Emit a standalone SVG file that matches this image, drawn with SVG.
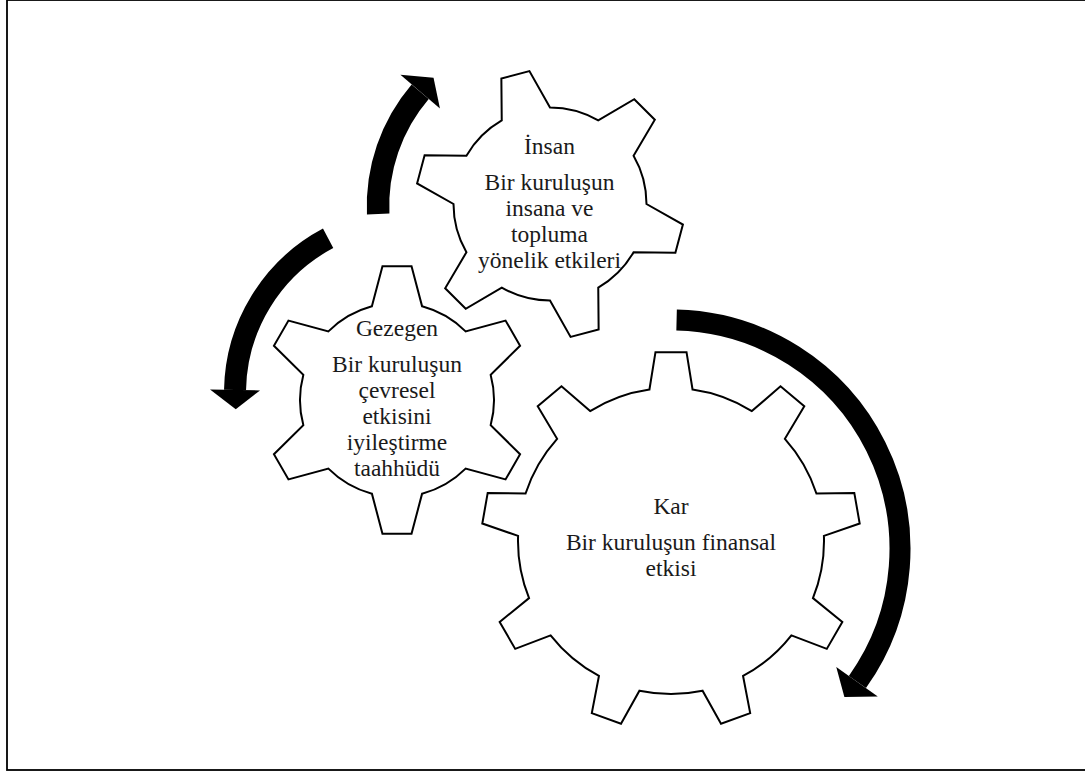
<svg xmlns="http://www.w3.org/2000/svg" width="1085" height="771" viewBox="0 0 1085 771">
<defs>
<style>
.gear{fill:#fff;stroke:#000;stroke-width:2;stroke-linejoin:miter}
.t{font-family:"Liberation Serif","Times New Roman",serif;font-size:23.5px;fill:#1a1a1a;text-anchor:middle}
.body{fill:none;stroke:#000;stroke-linecap:butt}
.head{fill:#000;stroke:none}
</style>
</defs>
<rect x="0" y="0" width="1085" height="771" fill="#fff"/>
<rect x="7" y="0" width="1090" height="770" fill="none" stroke="#000" stroke-width="1.8"/>
<g id="insan">
<path class="gear" d="M501.75,120.43 L501.36,78.61 L529.42,71.09 L550,107.5 A96.5,96.5 0 0 1 598.25,120.43 L634.28,99.18 L654.82,119.72 L633.57,155.75 A96.5,96.5 0 0 1 646.5,204 L682.91,224.58 L675.39,252.64 L633.57,252.25 A96.5,96.5 0 0 1 598.25,287.57 L598.64,329.39 L570.58,336.91 L550,300.5 A96.5,96.5 0 0 1 501.75,287.57 L465.72,308.82 L445.18,288.28 L466.43,252.25 A96.5,96.5 0 0 1 453.5,204 L417.09,183.42 L424.61,155.36 L466.43,155.75 A96.5,96.5 0 0 1 501.75,120.43 Z"/>
<text class="t" x="549.5" y="153.5">İnsan</text>
<text class="t" x="549.5" y="189.5">Bir kuruluşun</text>
<text class="t" x="549.5" y="215.5">insana ve</text>
<text class="t" x="549.5" y="241.5">topluma</text>
<text class="t" x="549.5" y="267.5">yönelik etkileri</text>
</g>
<g id="gezegen">
<path class="gear" d="M371.90,306.31 L382.47,266.28 L411.53,266.28 L422.10,306.31 A97,97 0 0 1 465.59,331.41 L505.54,320.56 L520.07,345.73 L490.69,374.90 A97,97 0 0 1 490.69,425.10 L520.07,454.27 L505.54,479.44 L465.59,468.59 A97,97 0 0 1 422.10,493.69 L411.53,533.72 L382.47,533.72 L371.90,493.69 A97,97 0 0 1 328.41,468.59 L288.46,479.44 L273.93,454.27 L303.31,425.10 A97,97 0 0 1 303.31,374.90 L273.93,345.73 L288.46,320.56 L328.41,331.41 A97,97 0 0 1 371.90,306.31 Z"/>
<text class="t" x="397" y="336">Gezegen</text>
<text class="t" x="397" y="371.5">Bir kuruluşun</text>
<text class="t" x="397" y="397.5">çevresel</text>
<text class="t" x="397" y="423.5">etkisini</text>
<text class="t" x="397" y="449.5">iyileştirme</text>
<text class="t" x="397" y="475.5">taahhüdü</text>
</g>
<g id="kar">
<path class="gear" d="M649.44,389.53 L655.47,352.14 L686.53,352.14 L692.56,389.53 A153,153 0 0 1 751.85,411.10 L780.51,386.35 L804.29,406.30 L784.88,438.83 A153,153 0 0 1 816.43,493.46 L854.30,492.90 L859.69,523.49 L823.92,535.92 A153,153 0 0 1 812.95,598.07 L842.33,621.99 L826.79,648.88 L791.40,635.40 A153,153 0 0 1 743.06,675.96 L750.19,713.16 L721.01,723.79 L702.55,690.71 A153,153 0 0 1 639.45,690.71 L620.99,723.79 L591.81,713.16 L598.94,675.96 A153,153 0 0 1 550.60,635.40 L515.21,648.88 L499.67,621.99 L529.05,598.07 A153,153 0 0 1 518.08,535.92 L482.31,523.49 L487.70,492.90 L525.57,493.46 A153,153 0 0 1 557.12,438.83 L537.71,406.30 L561.49,386.35 L590.15,411.10 A153,153 0 0 1 649.44,389.53 Z"/>
<text class="t" x="671" y="513.5">Kar</text>
<text class="t" x="671" y="549.5">Bir kuruluşun finansal</text>
<text class="t" x="671" y="575.5">etkisi</text>
</g>
<g id="connectors">
<path class="body" stroke-width="22.5" d="M378.18,213.98 A176,176 0 0 1 420.17,91.71"/>
<polygon class="head" points="400.40,74.82 433.53,77.70 439.94,108.59"/>
<path class="body" stroke-width="22" d="M328.12,238.33 A175,175 0 0 0 235.03,389.95"/>
<polygon class="head" points="210.03,389.51 235.75,409.16 260.02,390.38"/>
<path class="body" stroke-width="21" d="M676.59,320.07 A229,229 0 0 1 857.43,681.98"/>
<polygon class="head" points="836.26,666.88 844.37,697.06 877.78,696.50"/>
</g>
</svg>
